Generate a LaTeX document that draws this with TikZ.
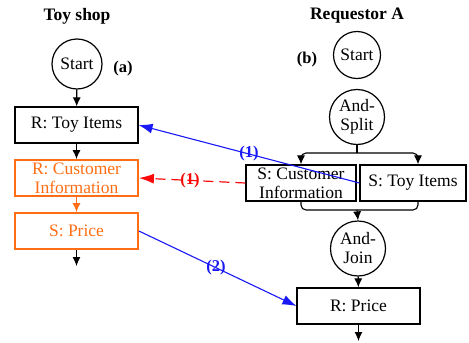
\documentclass[tikz,border=0pt]{standalone}
\usepackage{fontspec}
\setmainfont{Liberation Serif}
\usetikzlibrary{arrows.meta}
\definecolor{myorange}{RGB}{255,110,20}
\definecolor{myblue}{RGB}{25,25,245}
\definecolor{myred}{RGB}{250,10,10}
\begin{document}
\begin{tikzpicture}[x=1pt,y=-1pt,
  font=\fontsize{17.5}{19}\selectfont,
  box/.style={draw, line width=1.2pt, minimum width=123pt, minimum height=36pt, inner sep=0pt, align=center},
  obox/.style={box, draw=myorange, text=myorange, line width=1.8pt},
  circ/.style={draw, circle, line width=1.2pt, minimum size=50pt, inner sep=0pt, align=center},
  flow/.style={-{Latex[length=9pt,width=8pt]}, line width=1.1pt},
  oflow/.style={flow, draw=myorange, -{Latex[length=9pt,width=8pt,fill=myorange]}},
  link/.style={-{Latex[length=14pt,width=10pt]}, line width=1.1pt, draw=myblue},
  dlink/.style={-{Latex[length=15pt,width=10pt]}, line width=1.2pt, draw=myred, dash pattern=on 10pt off 6pt},
  lab/.style={font=\fontsize{16.5}{18}\selectfont\bfseries, inner sep=1pt},
  title/.style={font=\fontsize{17.5}{19}\selectfont\bfseries}
]
\useasboundingbox (0,0) rectangle (469,343);

% Left column
\node[title] (t1) at (77,16) {Toy shop};
\node[circ] (s1) at (77,64) {Start};
\node[lab] (la) at (123,69) {(a)};
\node[box] (r1) at (76.5,125) {R: Toy Items};
\node[obox] (r2) at (76.5,178) {R: Customer\\Information};
\node[obox] (r3) at (76.5,231) {S: Price};
\coordinate (e1) at (76.5,266);

\draw[flow] (s1) -- (r1);
\draw[flow] (r1) -- (r2);
\draw[oflow] (r2) -- (r3);
\draw[flow] (r3) -- (e1);

% Right column
\node[title] (t2) at (357,16) {Requestor A};
\node[circ, minimum size=47pt] (s2) at (357,55) {Start};
\node[lab] (lb) at (307,60) {(b)};
\node[circ, minimum size=55pt] (sp) at (357,117) {And-\\Split};
\node[box, minimum width=110pt] (c1) at (301,183) {S: Customer\\Information};
\node[box, minimum width=106pt] (c2) at (413,183) {S: Toy Items};
\node[circ, minimum size=55pt] (jn) at (358,248.5) {And-\\Join};
\node[box] (rp) at (358.5,306) {R: Price};
\coordinate (e2) at (358.5,341);

\coordinate (bj) at (357,153);
\coordinate (bj2) at (357,210);
\draw[line width=1.1pt] (sp.south) -- (bj);
\draw[flow, rounded corners=5pt] (bj) -| (c1.north);
\draw[flow, rounded corners=5pt] (bj) -| ([xshift=5pt]c2.north);
\draw[line width=1.1pt, rounded corners=5pt] (c1.south) |- (bj2) -| ([xshift=5pt]c2.south);
\draw[flow] (bj2) -- (jn.north);
\draw[flow] (jn) -- (rp);
\draw[flow] (rp) -- (e2);

% Links between partners
\draw[link] (c2.west) -- node[lab, text=myblue, pos=0.5] (l1) {(1)} (r1.east);
\draw[dlink] (c1.west) -- node[lab, text=myred, pos=0.52] (l2) {(1)} (r2.east);
\draw[link] (r3.east) -- node[lab, text=myblue, pos=0.49] (l3) {(2)} (rp.west);
\end{tikzpicture}
\end{document}
